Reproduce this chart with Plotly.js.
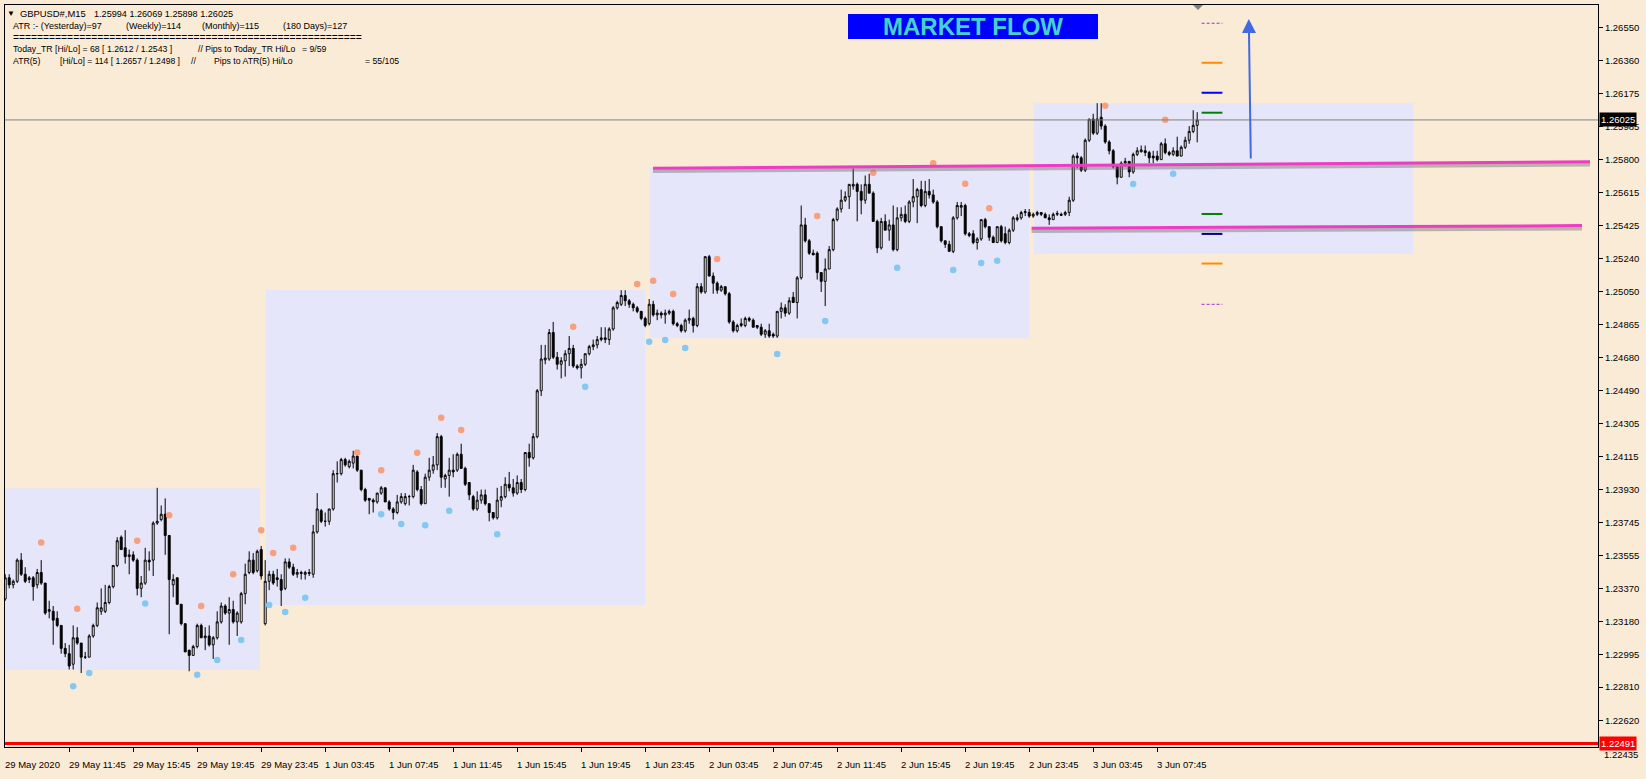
<!DOCTYPE html>
<html><head><meta charset="utf-8">
<script src="https://cdn.plot.ly/plotly-3.0.1.min.js"></script>
<style>html,body{margin:0;padding:0;background:#FAEBD7;}#chart{width:1646px;height:779px;}</style>
</head><body><div id="chart"></div>
<script>
// ---------- DATA (GBPUSD M15, one value per bar) ----------
const open = [
1.2331,1.2343,1.2339,1.2341,1.2353,1.2345,1.2342,1.2343,1.2339,1.2346,
1.234,1.2324,1.2324,1.232,1.2316,1.2303,1.23,1.2294,1.2309,1.2306,
1.2298,1.2298,1.231,1.2316,1.2324,1.2324,1.2329,1.2338,1.235,1.2366,
1.236,1.2355,1.2356,1.2353,1.2337,1.234,1.2353,1.2353,1.2374,1.2376,
1.2379,1.2367,1.2339,1.2343,1.2328,1.2317,1.2302,1.2299,1.2304,1.2316,
1.2309,1.231,1.2305,1.2309,1.2318,1.2327,1.2323,1.2325,1.2318,1.2318,
1.2334,1.2346,1.2353,1.2347,1.2359,1.2317,1.2341,1.2345,1.2343,1.2342,
1.2337,1.2352,1.2349,1.2345,1.2346,1.2345,1.2346,1.2345,1.2369,1.2381,
1.2375,1.2375,1.2382,1.2402,1.2402,1.241,1.2406,1.2408,1.2412,1.2404,
1.2393,1.2388,1.2387,1.2386,1.2391,1.2394,1.2386,1.2382,1.238,1.2386,
1.2385,1.2389,1.2389,1.2403,1.2393,1.2385,1.24,1.2404,1.2407,1.2423,
1.2399,1.2401,1.2404,1.2404,1.2413,1.2405,1.2397,1.2389,1.2382,1.2387,
1.239,1.2385,1.238,1.2377,1.2387,1.2389,1.2396,1.2394,1.2391,1.2397,
1.2393,1.2414,1.2411,1.2423,1.2449,1.24665,1.2467,1.2482,1.2468,1.2464,
1.2466,1.247,1.2473,1.2463,1.2462,1.2464,1.247,1.2474,1.2475,1.2478,
1.2478,1.2478,1.2484,1.2496,1.2498,1.2503,1.25,1.2498,1.2496,1.2494,
1.249,1.2487,1.2498,1.2492,1.2493,1.2492,1.2493,1.2494,1.2487,1.2486,
1.2483,1.2489,1.249,1.2486,1.2508,1.2505,1.2525,1.2514,1.251,1.2506,
1.2508,1.2504,1.2488,1.2483,1.2486,1.2486,1.249,1.2489,1.2486,1.2485,
1.2481,1.2483,1.2481,1.248,1.2494,1.2496,1.2493,1.2502,1.2499,1.2513,
1.2543,1.2534,1.2527,1.2527,1.2516,1.2511,1.2518,1.2529,1.2546,1.2552,
1.2557,1.2559,1.2565,1.2566,1.2562,1.2557,1.2566,1.2561,1.2545,1.253,
1.2545,1.254,1.2543,1.2529,1.2547,1.2549,1.2545,1.2556,1.2559,1.2563,
1.2554,1.2562,1.256,1.2556,1.2542,1.2534,1.2532,1.2528,1.2547,1.2553,
1.2554,1.2538,1.2538,1.2533,1.2535,1.2546,1.2542,1.2536,1.2533,1.2542,
1.2538,1.2533,1.254,1.2546,1.2547,1.255,1.255,1.2548,1.2549,1.255,
1.2549,1.2547,1.2546,1.2549,1.2549,1.2549,1.255,1.2557,1.2582,1.2581,
1.2574,1.2591,1.2603,1.2595,1.2604,1.2599,1.259,1.2585,1.2576,1.257,
1.2578,1.2579,1.2573,1.2583,1.25845,1.2585,1.2584,1.2582,1.2582,1.258,
1.2589,1.2584,1.2583,1.2585,1.2582,1.2587,1.2591,1.2596,1.25994];
const high = [
1.2345,1.2345,1.2342,1.2354,1.2357,1.2349,1.2344,1.2344,1.2348,1.2353,
1.234,1.233,1.2327,1.2324,1.2316,1.2306,1.2305,1.2316,1.2315,1.2306,
1.2301,1.2311,1.2317,1.2329,1.2337,1.2339,1.2339,1.235,1.2366,1.2367,
1.237,1.2359,1.2358,1.2354,1.2344,1.236,1.2358,1.2375,1.2394,1.2384,
1.2388,1.2367,1.2345,1.2343,1.2328,1.2317,1.2302,1.2305,1.2317,1.2317,
1.2315,1.2316,1.231,1.2324,1.2329,1.2328,1.2332,1.233,1.2324,1.2335,
1.2351,1.2358,1.2357,1.2359,1.2361,1.2353,1.2347,1.2347,1.2348,1.2345,
1.2354,1.2354,1.2351,1.2348,1.2347,1.2347,1.2348,1.2373,1.2391,1.2382,
1.238,1.2382,1.2404,1.2409,1.2411,1.2411,1.241,1.2415,1.2414,1.2404,
1.2394,1.2388,1.2388,1.2391,1.2395,1.2394,1.2387,1.2383,1.239,1.2391,
1.2391,1.239,1.2407,1.2404,1.2395,1.2402,1.2411,1.2412,1.2425,1.2424,
1.2402,1.2411,1.2413,1.2414,1.2419,1.2406,1.2397,1.239,1.2392,1.2393,
1.2393,1.2385,1.238,1.2394,1.2395,1.24,1.2403,1.2399,1.2401,1.2399,
1.2414,1.2419,1.2425,1.245,1.2475,1.2475,1.2484,1.2488,1.2471,1.2468,
1.2472,1.248,1.2475,1.2464,1.2467,1.247,1.2475,1.2478,1.248,1.2485,
1.2485,1.2485,1.2497,1.25,1.2506,1.2506,1.2501,1.2499,1.2497,1.2494,
1.2491,1.2501,1.25,1.2495,1.2494,1.2495,1.2495,1.2495,1.2488,1.2487,
1.249,1.2495,1.2491,1.251,1.251,1.2525,1.2526,1.2516,1.2511,1.2509,
1.2508,1.2505,1.2489,1.2487,1.249,1.2491,1.2491,1.249,1.2486,1.2487,
1.2484,1.2487,1.2482,1.2494,1.2499,1.2498,1.2502,1.2505,1.2514,1.2554,
1.2547,1.2535,1.2529,1.2528,1.2516,1.2524,1.2531,1.2547,1.2553,1.2563,
1.2562,1.2566,1.2575,1.2567,1.2566,1.2571,1.2572,1.2562,1.2546,1.2547,
1.2549,1.2546,1.2554,1.2553,1.2553,1.2554,1.2557,1.2569,1.2564,1.2568,
1.2568,1.2569,1.2563,1.2557,1.2542,1.2534,1.2534,1.2548,1.2556,1.2556,
1.2555,1.2539,1.254,1.2536,1.2546,1.2547,1.2542,1.2537,1.2542,1.2543,
1.2542,1.2541,1.2548,1.2549,1.2551,1.2552,1.2552,1.255,1.2551,1.255,
1.255,1.2549,1.255,1.2551,1.255,1.2551,1.2559,1.2583,1.2584,1.2582,
1.2592,1.2603,1.2606,1.2612,1.2612,1.26,1.2591,1.2586,1.2577,1.2579,
1.2581,1.2579,1.2584,1.2587,1.2588,1.2588,1.2585,1.2585,1.2585,1.259,
1.2592,1.2585,1.2587,1.2593,1.2588,1.2593,1.2599,1.2608,1.26069];
const low = [
1.233,1.2337,1.2337,1.234,1.2344,1.234,1.234,1.233,1.2337,1.2339,
1.2322,1.232,1.2305,1.2315,1.23,1.2298,1.2291,1.2291,1.2305,1.2289,
1.2297,1.2298,1.2309,1.2315,1.2322,1.2323,1.2328,1.2337,1.2349,1.2359,
1.2351,1.2345,1.2352,1.2333,1.2332,1.2339,1.2347,1.2344,1.2373,1.2375,
1.2356,1.2311,1.2332,1.2328,1.2316,1.2301,1.229,1.2299,1.2303,1.2309,
1.2302,1.2304,1.2297,1.2308,1.2317,1.2322,1.2305,1.2317,1.231,1.2317,
1.2328,1.2345,1.2345,1.2346,1.2342,1.2316,1.2336,1.2339,1.2338,1.2327,
1.2336,1.2348,1.2344,1.2343,1.2342,1.2342,1.2344,1.2343,1.2368,1.2374,
1.2372,1.2373,1.2381,1.2397,1.2401,1.2406,1.2405,1.2405,1.2403,1.2392,
1.2386,1.2379,1.238,1.2385,1.239,1.2386,1.2381,1.2376,1.2379,1.2385,
1.2384,1.2384,1.2388,1.2392,1.2384,1.2385,1.2398,1.2402,1.2404,1.2394,
1.2394,1.2389,1.24,1.2403,1.2405,1.2395,1.2387,1.2381,1.2381,1.2385,
1.2384,1.2375,1.2376,1.2376,1.2383,1.2388,1.2392,1.2389,1.239,1.2391,
1.2392,1.2406,1.241,1.2422,1.2446,1.2464,1.2466,1.2467,1.2461,1.2456,
1.2457,1.2463,1.2462,1.2461,1.2456,1.2463,1.2469,1.2472,1.2473,1.2477,
1.2476,1.2475,1.2483,1.2495,1.2497,1.2497,1.2496,1.2494,1.2493,1.2489,
1.2485,1.2486,1.2491,1.2489,1.249,1.2487,1.2492,1.2486,1.2485,1.2482,
1.2482,1.2487,1.2482,1.2485,1.2504,1.2504,1.2514,1.2504,1.2504,1.2505,
1.2503,1.2487,1.2482,1.2482,1.2485,1.2485,1.2488,1.2485,1.2484,1.248,
1.2479,1.2479,1.2479,1.2479,1.249,1.2491,1.2492,1.2499,1.249,1.2512,
1.2533,1.2526,1.2526,1.2512,1.2505,1.2497,1.2518,1.2528,1.2545,1.255,
1.2556,1.2552,1.2563,1.2545,1.2549,1.2555,1.2561,1.2545,1.2527,1.2529,
1.254,1.2534,1.2528,1.2528,1.2545,1.2544,1.2544,1.2553,1.2544,1.2553,
1.2553,1.2558,1.2555,1.2541,1.2533,1.253,1.2528,1.2527,1.2546,1.2548,
1.2537,1.2536,1.2532,1.2529,1.2534,1.2541,1.2534,1.2533,1.2533,1.2533,
1.2532,1.2532,1.2539,1.2545,1.2546,1.2548,1.2547,1.2547,1.2548,1.2548,
1.2547,1.2543,1.2546,1.2548,1.2548,1.2548,1.2548,1.2556,1.2575,1.2573,
1.2573,1.259,1.2594,1.2594,1.2597,1.2589,1.2583,1.2575,1.2566,1.257,
1.2576,1.257,1.2572,1.2582,1.2584,1.2582,1.2578,1.2578,1.2579,1.258,
1.2583,1.2582,1.2582,1.2582,1.2582,1.2586,1.2589,1.2595,1.25898];
const close = [
1.2343,1.2339,1.2341,1.2353,1.2345,1.2341,1.2343,1.2338,1.2346,1.234,
1.2323,1.2325,1.2319,1.2316,1.2303,1.23,1.2293,1.2309,1.2306,1.2298,
1.2298,1.231,1.2316,1.2326,1.2326,1.2329,1.2338,1.235,1.2364,1.2359,
1.2355,1.2356,1.2353,1.2337,1.234,1.2353,1.2352,1.2374,1.2375,1.2379,
1.2367,1.2342,1.2342,1.2328,1.2317,1.2301,1.2299,1.2304,1.2316,1.2309,
1.231,1.2305,1.2309,1.2318,1.2327,1.2323,1.2325,1.2318,1.2323,1.2334,
1.2345,1.2353,1.2346,1.2358,1.2344,1.2341,1.2345,1.234,1.2342,1.2336,
1.2352,1.2349,1.2345,1.2346,1.23455,1.2346,1.23455,1.2369,1.2382,1.2375,
1.2375,1.2382,1.2402,1.2402,1.241,1.2407,1.2409,1.2412,1.2404,1.2393,
1.2387,1.2387,1.2386,1.2391,1.2394,1.2386,1.2382,1.238,1.2386,1.2389,
1.2389,1.2389,1.2404,1.2393,1.2385,1.24,1.2404,1.2407,1.2423,1.24,
1.2401,1.2404,1.2403,1.2413,1.2405,1.2396,1.239,1.2382,1.2387,1.239,
1.2385,1.238,1.2377,1.2387,1.2389,1.2396,1.2394,1.2391,1.2397,1.2393,
1.2414,1.2411,1.2423,1.2449,1.2467,1.24675,1.2482,1.2468,1.2464,1.2466,
1.247,1.2473,1.2463,1.2462,1.2464,1.247,1.2474,1.2475,1.2478,1.2479,
1.2479,1.2484,1.2496,1.2499,1.2503,1.25,1.2498,1.2496,1.2494,1.249,
1.2486,1.2498,1.2492,1.2493,1.2492,1.2493,1.2494,1.2487,1.2486,1.2483,
1.2489,1.249,1.2486,1.2508,1.2505,1.2525,1.2514,1.251,1.2506,1.2508,
1.2504,1.2488,1.2483,1.2486,1.2487,1.249,1.2489,1.2485,1.2485,1.2481,
1.2483,1.248,1.248,1.2494,1.2496,1.2493,1.25,1.2499,1.2513,1.2543,
1.2534,1.2527,1.2526,1.2516,1.2511,1.2518,1.2529,1.2546,1.2552,1.2557,
1.2559,1.2566,1.2566,1.2562,1.2557,1.2566,1.2561,1.2545,1.253,1.2545,
1.254,1.2543,1.2529,1.2547,1.2549,1.2545,1.2556,1.2559,1.2563,1.2554,
1.2562,1.256,1.2556,1.2542,1.2534,1.2532,1.2528,1.2547,1.2554,1.2554,
1.2538,1.2537,1.2533,1.2535,1.2546,1.2542,1.2536,1.2533,1.2542,1.2534,
1.2533,1.254,1.2547,1.2547,1.255,1.25505,1.2548,1.2549,1.255,1.2549,
1.2547,1.2546,1.2549,1.25495,1.25485,1.255,1.2557,1.2582,1.2581,1.2574,
1.2591,1.2603,1.2595,1.2603,1.2599,1.259,1.2585,1.2576,1.257,1.2578,
1.2579,1.2573,1.2583,1.2585,1.25855,1.2584,1.2581,1.2581,1.258,1.2589,
1.2584,1.2583,1.2585,1.2582,1.2587,1.2591,1.2596,1.25994,1.26025];

// fractal-style dots (bar index, price)
const dotUpBar   = [9,18,33,41,49,57,64,67,72,88,94,103,109,114,142,158,162,167,178,203,217,232,240,246,275,290];
const dotUpPrice = [1.2363,1.23255,1.2364,1.23785,1.2327,1.2345,1.237,1.2357,1.236,1.2414,1.2404,1.24138,1.24337,1.24267,1.24853,1.25095,1.25114,1.25039,1.25237,1.2548,1.25726,1.25779,1.25663,1.25525,1.26106,1.26026];
const dotDnBar   = [17,21,35,48,53,59,66,70,75,94,99,105,111,123,145,161,165,170,193,205,223,237,244,248,282,292];
const dotDnPrice = [1.22815,1.2289,1.23284,1.2288,1.22964,1.23077,1.23276,1.23236,1.23317,1.2379,1.23735,1.23728,1.2381,1.23677,1.24513,1.24768,1.24778,1.24732,1.24698,1.24885,1.25187,1.25174,1.25214,1.25227,1.25662,1.2572];

// daily range boxes
const boxStartBar = [-2, 65.2, 161.2, 257.2];
const boxEndBar   = [63.7, 160, 256, 352];
const boxLow      = [1.22907, 1.23276, 1.24787, 1.25265];
const boxHigh     = [1.23937, 1.25061, 1.25753, 1.26119];

// pink trend lines
const trendX0 = [161.95, 256.6];
const trendY0 = [1.25751, 1.25411];
const trendX1 = [396.2, 394.2];
const trendY1 = [1.25788, 1.25426];

// level markers right of the last bar
const levelPrice = [1.26573, 1.26349, 1.26179, 1.26066, 1.25492, 1.25379, 1.25211, 1.24980];
const levelColor = ['#9932CC','#FF8C00','#0000FF','#008000','#008000','#00008B','#FF8C00','#9932CC'];
const levelDash  = ['3px,2px','solid','solid','solid','solid','solid','solid','3px,2px'];
const levelWidth = [1, 2, 2, 2, 2, 2, 2, 1];

const currentPrice = 1.26025;
const redLevel = 1.22491;

// axis ticks
const xTickBars = [0,16,32,48,64,80,96,112,128,144,160,176,192,208,224,240,256,272,288];
const xTickLabels = ["29 May 2020","29 May 11:45","29 May 15:45","29 May 19:45","29 May 23:45","1 Jun 03:45","1 Jun 07:45","1 Jun 11:45","1 Jun 15:45","1 Jun 19:45","1 Jun 23:45","2 Jun 03:45","2 Jun 07:45","2 Jun 11:45","2 Jun 15:45","2 Jun 19:45","2 Jun 23:45","3 Jun 03:45","3 Jun 07:45"];
const yTickLabels = ["1.26550","1.26360","1.26175","1.25985","1.25800","1.25615","1.25425","1.25240","1.25050","1.24865","1.24680","1.24490","1.24305","1.24115","1.23930","1.23745","1.23555","1.23370","1.23180","1.22995","1.22810","1.22620"];
const bottomLabel = "1.22435";

// ---------- LAYOUT HELPERS ----------
const W = 1646, H = 779;
const PL = 5, PR = 1598, PT = 5, PB = 747;
const px2x = px => (px - PL) / (PR - PL);
const py2y = py => (PB - py) / (PB - PT);
const FONT = 'Liberation Sans, Arial, sans-serif';

const bars = open.map((_, i) => i);

const traces = [
  {
    type: 'candlestick', x: bars, open: open, high: high, low: low, close: close,
    increasing: {line: {color: '#000000', width: 1}, fillcolor: '#FFFFFF'},
    decreasing: {line: {color: '#000000', width: 1}, fillcolor: '#000000'},
    whiskerwidth: 0, hoverinfo: 'skip', showlegend: false
  },
  {
    type: 'scatter', mode: 'markers', x: dotUpBar, y: dotUpPrice,
    marker: {color: '#F6A07E', size: 6.5}, hoverinfo: 'skip', showlegend: false
  },
  {
    type: 'scatter', mode: 'markers', x: dotDnBar, y: dotDnPrice,
    marker: {color: '#84C8F2', size: 6.5}, hoverinfo: 'skip', showlegend: false
  }
];

const shapes = [];
for (let k = 0; k < boxStartBar.length; k++) {
  shapes.push({type: 'rect', xref: 'x', yref: 'y', x0: boxStartBar[k], x1: boxEndBar[k],
    y0: boxLow[k], y1: boxHigh[k], fillcolor: '#E6E6FA', line: {width: 0}, layer: 'below'});
}
shapes.push({type: 'line', xref: 'paper', yref: 'y', x0: 0, x1: 1, y0: currentPrice, y1: currentPrice,
  line: {color: '#808080', width: 1}});
shapes.push({type: 'line', xref: 'paper', yref: 'y', x0: 0, x1: 1, y0: redLevel, y1: redLevel,
  line: {color: '#FF0000', width: 3}});
const shadowOffset = 0.00016;
for (let k = 0; k < trendX0.length; k++) {
  shapes.push({type: 'line', xref: 'x', yref: 'y', x0: trendX0[k], x1: trendX1[k],
    y0: trendY0[k] - shadowOffset, y1: trendY1[k] - shadowOffset,
    line: {color: 'rgba(110,110,110,0.45)', width: 4}});
  shapes.push({type: 'line', xref: 'x', yref: 'y', x0: trendX0[k], x1: trendX1[k],
    y0: trendY0[k], y1: trendY1[k], line: {color: '#F03CC4', width: 3}});
}
for (let k = 0; k < levelPrice.length; k++) {
  shapes.push({type: 'line', xref: 'x', yref: 'y', x0: 299.1, x1: 304.3,
    y0: levelPrice[k], y1: levelPrice[k], line: {color: levelColor[k], width: levelWidth[k], dash: levelDash[k]}});
}
shapes.push({type: 'rect', xref: 'paper', yref: 'paper', x0: px2x(848), x1: px2x(1098),
  y0: py2y(39), y1: py2y(14), fillcolor: '#0000FF', line: {width: 0}});
shapes.push({type: 'path', xref: 'paper', yref: 'paper',
  path: `M ${px2x(1193)} ${py2y(5)} L ${px2x(1203)} ${py2y(5)} L ${px2x(1198)} ${py2y(10)} Z`,
  fillcolor: '#808080', line: {width: 0}});

const annotations = [];
xTickBars.forEach((b, k) => {
  annotations.push({xref: 'x', yref: 'paper', x: b, y: py2y(764), text: xTickLabels[k],
    showarrow: false, xanchor: 'left', yanchor: 'middle', xshift: -2,
    font: {family: FONT, size: 9.5, color: '#000000'}});
});
annotations.push({xref: 'paper', yref: 'y', x: 1, y: currentPrice, text: '1.26025', showarrow: false,
  xanchor: 'left', yanchor: 'middle', xshift: 1, bgcolor: '#000000', borderpad: 1,
  font: {family: FONT, size: 9.5, color: '#FFFFFF'}});
annotations.push({xref: 'paper', yref: 'paper', x: 1, y: py2y(754), text: bottomLabel, showarrow: false,
  xanchor: 'left', yanchor: 'middle', xshift: 4,
  font: {family: FONT, size: 9.5, color: '#000000'}});
annotations.push({xref: 'paper', yref: 'y', x: 1, y: redLevel, text: '1.22491', showarrow: false,
  xanchor: 'left', yanchor: 'middle', xshift: 1, bgcolor: '#FF0000', borderpad: 1,
  font: {family: FONT, size: 9.5, color: '#FFFFFF'}});
annotations.push({xref: 'x', yref: 'y', axref: 'x', ayref: 'y', x: 310.9, y: 1.26597, ax: 311.4, ay: 1.25798,
  showarrow: true, arrowhead: 2, arrowsize: 1.4, arrowwidth: 2, arrowcolor: '#4169E1', text: ''});
annotations.push({xref: 'paper', yref: 'paper', x: px2x(973), y: py2y(26.5), text: '<b>MARKET FLOW</b>',
  showarrow: false, xanchor: 'center', yanchor: 'middle',
  font: {family: FONT, size: 24, color: '#48D1CC'}});
const header = [
  ['▼', 6, 13.7, 8],
  ['GBPUSD#,M15', 19, 13.7, 9.4],
  ['1.25994 1.26069 1.25898 1.26025', 93, 13.7, 9.1],
  ['ATR :- (Yesterday)=97', 12, 25.7, 9],
  ['(Weekly)=114', 125, 25.7, 9],
  ['(Monthly)=115', 201, 25.7, 9],
  ['(180 Days)=127', 282, 25.7, 9],
  ['==========================================================', 12, 37.3, 10.3],
  ['Today_TR [Hi/Lo] = 68 [ 1.2612 / 1.2543 ]', 12, 49.3, 8.7],
  ['// Pips to Today_TR Hi/Lo', 197, 49.3, 8.6],
  ['= 9/59', 301, 49.3, 8.7],
  ['ATR(5)', 12, 61, 8.7],
  ['[Hi/Lo] = 114 [ 1.2657 / 1.2498 ]', 59, 61, 8.6],
  ['//', 190, 61, 8.7],
  ['Pips to ATR(5) Hi/Lo', 213, 61, 8.7],
  ['= 55/105', 364, 61, 8.7]
];
header.forEach(h => {
  annotations.push({xref: 'paper', yref: 'paper', x: px2x(h[1]), y: py2y(h[2]), text: h[0],
    showarrow: false, xanchor: 'left', yanchor: 'middle', borderpad: 0,
    font: {family: FONT, size: h[3], color: '#000000'}});
});

const layout = {
  width: W, height: H,
  margin: {l: PL, r: W - PR, t: PT, b: H - PB, pad: 0},
  paper_bgcolor: '#FAEBD7', plot_bgcolor: '#FAEBD7',
  showlegend: false, hovermode: false, dragmode: false,
  xaxis: {
    range: [-0.05, 398.2], rangeslider: {visible: false}, showgrid: false, zeroline: false,
    tickmode: 'array', tickvals: xTickBars.slice(1), ticks: 'outside', ticklen: 4, tickcolor: '#000000',
    showticklabels: false, showline: true, mirror: true, linecolor: '#000000', linewidth: 1, fixedrange: true
  },
  yaxis: {
    side: 'right', range: [1.224709, 1.266764], showgrid: false, zeroline: false,
    tickmode: 'array', tickvals: yTickLabels.map(Number), ticktext: yTickLabels,
    ticks: 'outside', ticklen: 4, tickcolor: '#000000',
    tickfont: {family: FONT, size: 9.5, color: '#000000'},
    showline: true, mirror: true, linecolor: '#000000', linewidth: 1, fixedrange: true
  },
  shapes: shapes,
  annotations: annotations
};

Plotly.newPlot('chart', traces, layout, {displayModeBar: false, staticPlot: true});
</script>
</body></html>
